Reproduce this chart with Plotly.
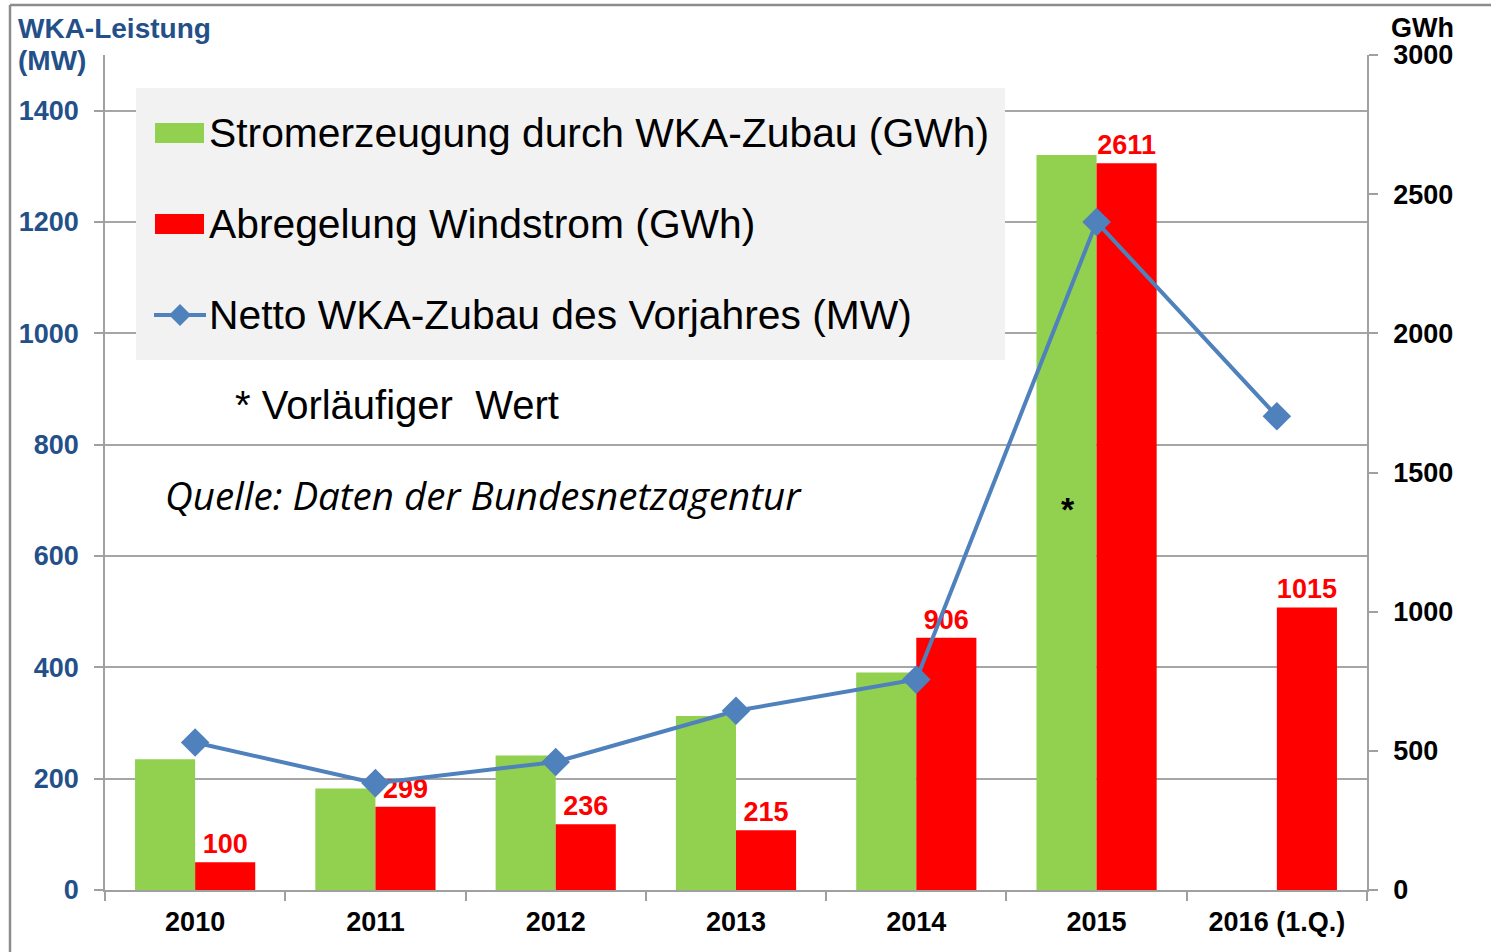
import plotly.graph_objects as go

# ---------------- data ----------------
categories = ["2010", "2011", "2012", "2013", "2014", "2015", "2016 (1.Q.)"]
stromerzeugung_gwh = [470, 365, 483, 625, 781, 2641, None]
abregelung_gwh = [100, 299, 236, 215, 906, 2611, 1015]
netto_zubau_mw = [265, 192, 230, 322, 378, 1200, 851]
left_ticks = [0, 200, 400, 600, 800, 1000, 1200, 1400]
right_ticks = [0, 500, 1000, 1500, 2000, 2500, 3000]
left_range = [0, 1500]
right_range = [0, 3000]
star_category = "2015"
star_level_gwh = 1370

legend_names = [
    "Stromerzeugung durch WKA-Zubau (GWh)",
    "Abregelung Windstrom (GWh)",
    "Netto WKA-Zubau des Vorjahres (MW)",
]

# ---------------- styling ----------------
W, H = 1491, 952
L, R, T, B = 105, 124, 55, 62
PW, PH = W - L - R, H - T - B

GREEN = "#92D050"
RED = "#FF0000"
BLUE = "#4F81BD"
AXBLUE = "#245089"
AXGREY = "#A0A0A0"
FONT = "Liberation Sans, Arial, sans-serif"


def px(x):
    return (x - L) / PW


def py(y):
    return (H - B - y) / PH


# gridlines follow the left (MW) ticks; expressed on the right (GWh) scale
scale = right_range[1] / left_range[1]
grid_on_right = [v * scale for v in left_ticks if v > 0]

fig = go.Figure()

fig.add_trace(go.Bar(
    x=categories, y=stromerzeugung_gwh, name=legend_names[0],
    marker=dict(color=GREEN, line=dict(width=0)), yaxis="y",
    showlegend=False,
))
fig.add_trace(go.Bar(
    x=categories, y=abregelung_gwh, name=legend_names[1],
    marker=dict(color=RED, line=dict(width=0)), yaxis="y",
    text=[str(v) for v in abregelung_gwh], textposition="outside",
    textfont=dict(family=FONT, size=27, color=RED, weight="bold"),
    constraintext="none", cliponaxis=False, showlegend=False,
))
fig.add_trace(go.Scatter(
    x=categories, y=netto_zubau_mw, name=legend_names[2], mode="lines+markers",
    line=dict(color=BLUE, width=4),
    marker=dict(symbol="diamond", size=22, color=BLUE),
    yaxis="y2", showlegend=False, cliponaxis=False,
))

shapes = []
# outer frame lines (top and left)
shapes.append(dict(type="line", xref="paper", yref="paper", x0=px(10), x1=px(W + 5),
                   y0=py(5), y1=py(5), line=dict(color="#8C8C8C", width=2.5)))
shapes.append(dict(type="line", xref="paper", yref="paper", x0=px(10), x1=px(10),
                   y0=py(5), y1=py(H + 5), line=dict(color="#8C8C8C", width=2.5)))
# legend box
shapes.append(dict(type="rect", xref="paper", yref="paper", x0=px(136), x1=px(1005),
                   y0=py(360), y1=py(88), fillcolor="#F2F2F2", line=dict(width=0),
                   layer="above"))
# legend swatches
shapes.append(dict(type="rect", xref="paper", yref="paper", x0=px(155), x1=px(204),
                   y0=py(143), y1=py(123), fillcolor=GREEN, line=dict(width=0), layer="above"))
shapes.append(dict(type="rect", xref="paper", yref="paper", x0=px(155), x1=px(204),
                   y0=py(234), y1=py(214), fillcolor=RED, line=dict(width=0), layer="above"))
shapes.append(dict(type="line", xref="paper", yref="paper", x0=px(154), x1=px(206),
                   y0=py(315), y1=py(315), line=dict(color=BLUE, width=4), layer="above"))
cx, cy, d = 180, 315, 11
shapes.append(dict(type="path", xref="paper", yref="paper",
                   path=f"M {px(cx-d)},{py(cy)} L {px(cx)},{py(cy-d)} L {px(cx+d)},{py(cy)} L {px(cx)},{py(cy+d)} Z",
                   fillcolor=BLUE, line=dict(width=0), layer="above"))

annotations = []
for name, yy in zip(legend_names, [133, 224, 315]):
    annotations.append(dict(text=name, xref="paper", yref="paper", x=px(207), y=py(yy),
                            xanchor="left", yanchor="middle", showarrow=False,
                            font=dict(family=FONT, size=40.8, color="black")))
annotations.append(dict(text="* Vorläufiger  Wert", xref="paper", yref="paper",
                        x=px(233), y=py(405), xanchor="left", yanchor="middle",
                        showarrow=False, font=dict(family=FONT, size=40, color="black")))
annotations.append(dict(text="<i>Quelle: Daten der Bundesnetzagentur</i>", xref="paper",
                        yref="paper", x=px(163), y=py(495), xanchor="left", yanchor="middle",
                        showarrow=False, font=dict(family="Open Sans, Lato, sans-serif", size=38.5,
                                                   color="black")))
annotations.append(dict(text="<b>*</b>", xref="x", yref="y",
                        x=categories.index(star_category), y=star_level_gwh, xshift=-29,
                        showarrow=False, font=dict(family=FONT, size=34, color="black")))
# axis titles
annotations.append(dict(text="<b>WKA-Leistung</b>", xref="paper", yref="paper", x=px(16),
                        y=py(28), xanchor="left", yanchor="middle", showarrow=False,
                        font=dict(family=FONT, size=28, color=AXBLUE)))
annotations.append(dict(text="<b>(MW)</b>", xref="paper", yref="paper", x=px(16),
                        y=py(60), xanchor="left", yanchor="middle", showarrow=False,
                        font=dict(family=FONT, size=28, color=AXBLUE)))
annotations.append(dict(text="<b>GWh</b>", xref="paper", yref="paper", x=px(1389),
                        y=py(28), xanchor="left", yanchor="middle", showarrow=False,
                        font=dict(family=FONT, size=27, color="black")))

fig.update_layout(
    width=W, height=H,
    margin=dict(l=L, r=R, t=T, b=B, pad=0),
    paper_bgcolor="white", plot_bgcolor="white",
    barmode="group", bargap=1 / 3, bargroupgap=0,
    shapes=shapes, annotations=annotations,
    xaxis=dict(
        type="category", categoryorder="array", categoryarray=categories,
        range=[-0.5, len(categories) - 0.5], autorange=False,
        tickson="boundaries", ticks="outside", ticklen=9, tickcolor=AXGREY, tickwidth=1.5,
        showline=True, linecolor=AXGREY, linewidth=1.5, showgrid=False,
        tickfont=dict(family=FONT, size=27, color="black", weight="bold"),
        ticklabelstandoff=7, tickangle=0,
    ),
    # right axis (GWh) – bars
    yaxis=dict(
        side="right", range=right_range, autorange=False, tickvals=right_ticks,
        ticktext=[str(v) for v in right_ticks],
        showgrid=False,
        minor=dict(tickvals=grid_on_right, showgrid=True, gridcolor="#A6A6A6",
                   gridwidth=1.5, ticks=""),
        showline=True, linecolor=AXGREY, linewidth=1.5,
        ticks="outside", ticklen=9, tickcolor=AXGREY, tickwidth=1.5,
        tickfont=dict(family=FONT, size=27, color="black", weight="bold"),
        ticklabelstandoff=10, zeroline=False,
    ),
    # left axis (MW) – line
    yaxis2=dict(
        side="left", overlaying="y", anchor="x",
        range=left_range, autorange=False, tickvals=left_ticks,
        ticktext=[str(v) for v in left_ticks],
        showgrid=False,
        showline=True, linecolor=AXGREY, linewidth=1.5,
        ticks="outside", ticklen=9, tickcolor=AXGREY, tickwidth=1.5,
        tickfont=dict(family=FONT, size=27, color=AXBLUE, weight="bold"),
        ticklabelstandoff=10, zeroline=False,
    ),
    showlegend=False,
)

fig.write_html("out.html", config={"displayModeBar": False},
               post_script="document.body.style.margin='0';")
